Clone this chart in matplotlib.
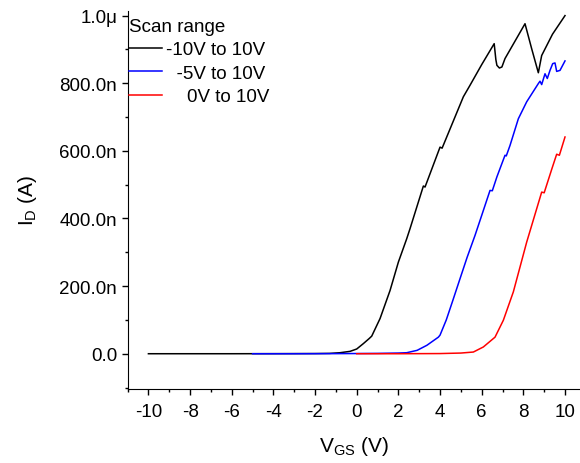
import numpy as np
import matplotlib.pyplot as plt
from matplotlib.ticker import MultipleLocator

plt.rcParams['font.family'] = ['Liberation Sans', 'DejaVu Sans']

# Vgs (V) / Id (nA) for the three scan ranges
v_black = [-10, -8, -6, -4, -2, -1.3, -0.8, -0.32, 0.0, 0.32, 0.6, 0.72, 1.12, 1.6, 2.0, 2.4,
           2.56, 3.2, 3.28, 4.0, 4.1, 5.12, 5.44, 6.0, 6.6, 6.68, 6.73, 6.85, 6.97, 7.12,
           8.08, 8.4, 8.72, 8.88, 9.4, 10.0]
i_black = [0, 0, 0, 0.2, 0.5, 1, 3, 7, 14, 30, 45, 52, 104, 187, 271, 340,
           370, 496, 493, 611, 608, 760, 794, 855, 917, 870, 853, 845, 848, 873,
           976, 902, 831, 882, 945, 1000]

v_blue = [-5, -3, -1, 0, 1, 2, 2.4, 2.9, 3.37, 3.92, 4.0, 4.3, 4.6, 4.96, 5.3, 5.68,
          6.0, 6.4, 6.51, 6.73, 7.12, 7.18, 7.36, 7.76, 8.16, 8.72, 8.8, 8.88, 9.04, 9.15,
          9.28, 9.41, 9.52, 9.6, 9.76, 10.0]
i_blue = [0, 0, 0.3, 0.6, 1, 2, 3, 10, 25, 49, 55, 100, 155, 222, 285, 350,
          409, 483, 482, 523, 587, 585, 616, 695, 745, 799, 806, 796, 828, 814,
          838, 858, 860, 835, 838, 866]

v_red = [0, 2, 4, 5, 5.6, 6.08, 6.64, 7.04, 7.52, 8.16, 8.88, 9.0, 9.37, 9.6, 9.73, 10.0]
i_red = [0, 0, 0.5, 2, 5, 20, 49, 99, 183, 330, 478, 476, 547, 590, 587, 641]

labels = ['-10V to 10V', '  -5V to 10V', '    0V to 10V']
ytick_vals = [0, 200e-9, 400e-9, 600e-9, 800e-9, 1e-6]
ytick_labels = ['0.0', '200.0n', '400.0n', '600.0n', '800.0n', '1.0\u03bc']
xtick_vals = [-10, -8, -6, -4, -2, 0, 2, 4, 6, 8, 10]

fig = plt.figure(figsize=(5.8, 4.64), dpi=100)
ax = fig.add_axes([0.22, 0.16, 0.78, 0.815])

ax.plot(v_black, np.array(i_black) * 1e-9, color='black', lw=1.1, label=labels[0])
ax.plot(v_blue, np.array(i_blue) * 1e-9, color='#0000ff', lw=1.1, label=labels[1])
ax.plot(v_red, np.array(i_red) * 1e-9, color='#ff0000', lw=1.1, label=labels[2])

ax.set_xlim(-11, 10.72)
ax.set_ylim(-0.1036e-6, 1.0148e-6)

ax.spines['top'].set_visible(False)
ax.spines['right'].set_visible(False)

ax.set_xticks(xtick_vals)
ax.set_xticklabels([str(v) for v in xtick_vals])
ax.xaxis.set_minor_locator(MultipleLocator(1))
ax.set_yticks(ytick_vals)
ax.set_yticklabels(ytick_labels)
ax.yaxis.set_minor_locator(MultipleLocator(100e-9))
ax.tick_params(which='major', direction='out', length=4, width=1, labelsize=13.5)
ax.tick_params(axis='x', which='major', pad=6)
ax.tick_params(which='minor', direction='out', length=2.5, width=1)

ax.set_xlabel(r'$\mathregular{V_{GS}}$ (V)', fontsize=15, labelpad=10)
ax.set_ylabel(r'$\mathregular{I_{D}}$ (A)', fontsize=15, labelpad=15)

leg = ax.legend(loc='upper left', bbox_to_anchor=(0.0, 0.985), frameon=False, fontsize=13.5,
                title='Scan range', title_fontsize=13.5, alignment='left',
                handlelength=1.75, handletextpad=0.2, borderpad=0.1,
                borderaxespad=0.0, labelspacing=0.33)

fig.savefig('out.png', dpi=100)
